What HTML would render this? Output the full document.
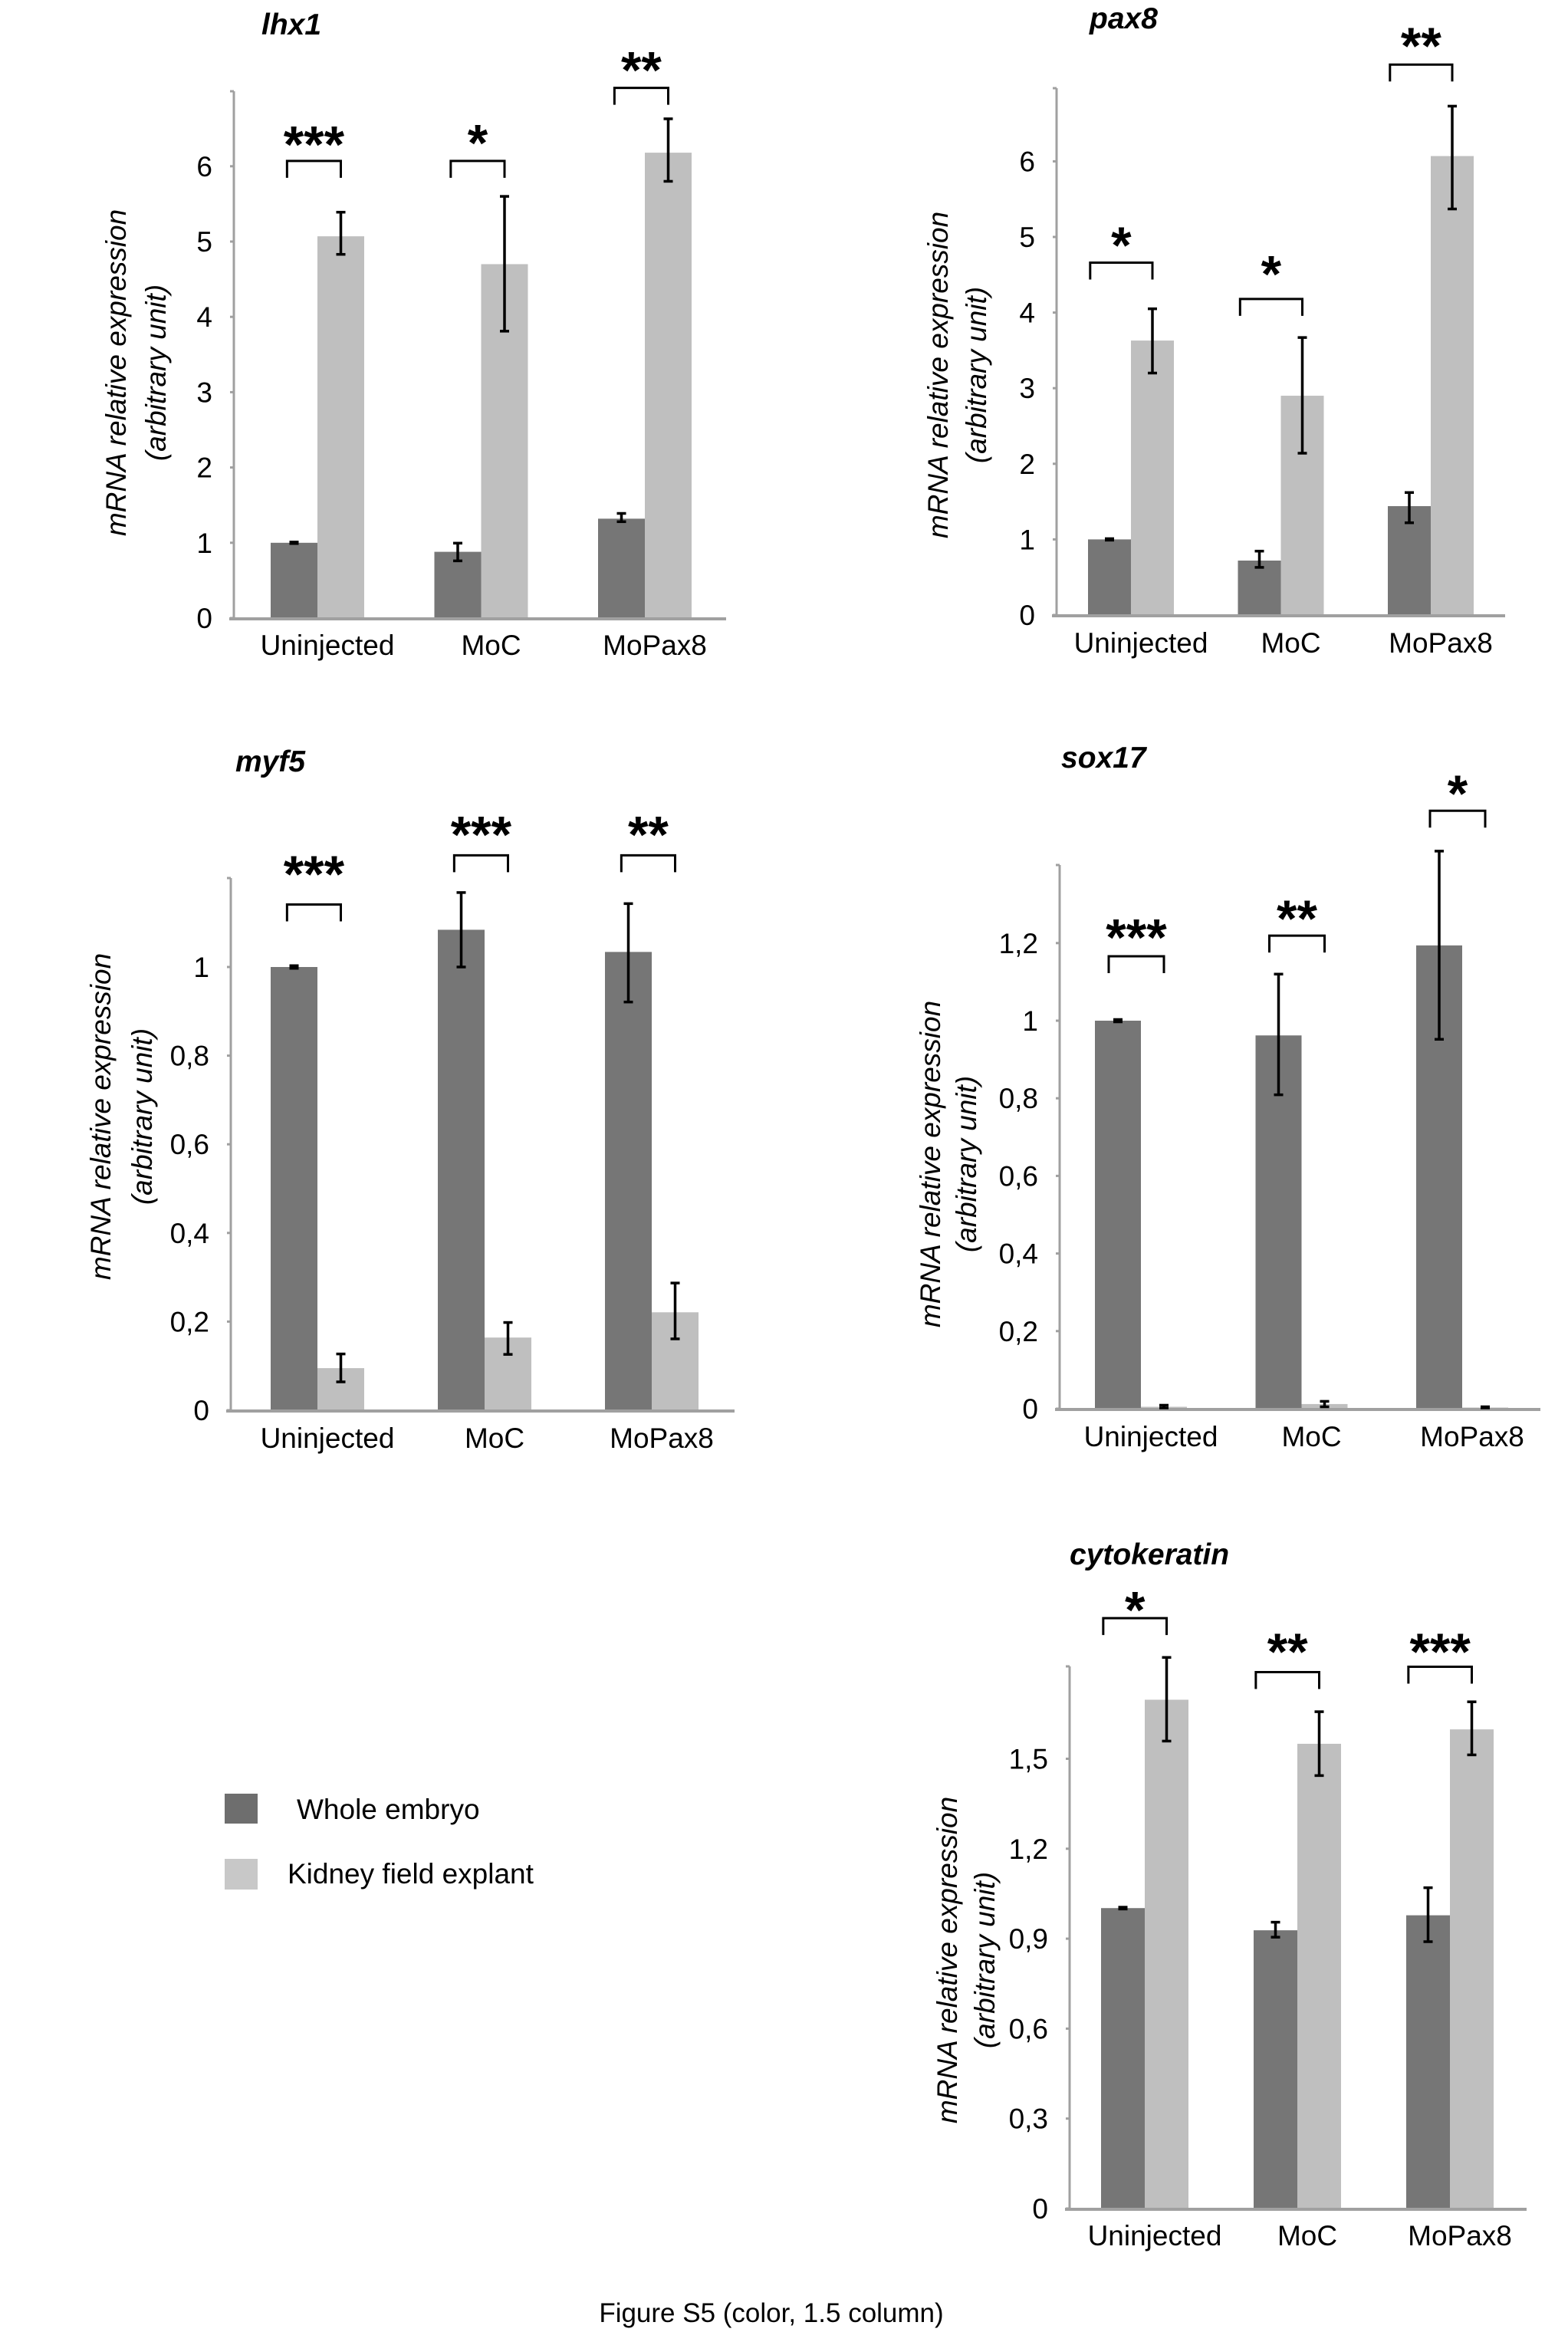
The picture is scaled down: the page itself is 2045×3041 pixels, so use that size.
<!DOCTYPE html>
<html><head><meta charset="utf-8"><title>Figure S5</title>
<style>
html,body{margin:0;padding:0;background:#fff;}
svg{display:block;font-family:"Liberation Sans",Arial,sans-serif;}
</style></head>
<body>
<svg id="fig" width="2045" height="3041" viewBox="0 0 2045 3041" xmlns="http://www.w3.org/2000/svg"></svg>
<script>
// ---- shared data ----
const categories = ["Uninjected", "MoC", "MoPax8"];
const seriesNames = ["Whole embryo", "Kidney field explant"];

// lhx1
const lhx1Whole = [1.0, 0.88, 1.32];
const lhx1WholeLo = [0.99, 0.76, 1.28];
const lhx1WholeHi = [1.01, 0.995, 1.39];
const lhx1Kidney = [5.07, 4.70, 6.18];
const lhx1KidneyLo = [4.83, 3.81, 5.80];
const lhx1KidneyHi = [5.39, 5.60, 6.63];
const lhx1Sig = ["***", "*", "**"];
const lhx1BracketY = [6.07, 6.07, 7.04];
const lhx1StarY = [6.46, 6.48, 7.45];
const lhx1Ticks = [0, 1, 2, 3, 4, 5, 6];
const lhx1TickLabels = ["0", "1", "2", "3", "4", "5", "6"];

// pax8
const pax8Whole = [1.0, 0.72, 1.44];
const pax8WholeLo = [0.99, 0.63, 1.22];
const pax8WholeHi = [1.01, 0.845, 1.62];
const pax8Kidney = [3.63, 2.90, 6.07];
const pax8KidneyLo = [3.20, 2.14, 5.37];
const pax8KidneyHi = [4.05, 3.67, 6.73];
const pax8Sig = ["*", "*", "**"];
const pax8BracketY = [4.66, 4.18, 7.28];
const pax8StarY = [5.06, 4.68, 7.70];
const pax8Ticks = [0, 1, 2, 3, 4, 5, 6];
const pax8TickLabels = ["0", "1", "2", "3", "4", "5", "6"];

// myf5
const myf5Whole = [1.0, 1.084, 1.034];
const myf5WholeLo = [0.997, 1.0, 0.921];
const myf5WholeHi = [1.003, 1.168, 1.143];
const myf5Kidney = [0.095, 0.164, 0.221];
const myf5KidneyLo = [0.064, 0.126, 0.161];
const myf5KidneyHi = [0.127, 0.198, 0.287];
const myf5Sig = ["***", "***", "**"];
const myf5BracketY = [1.141, 1.252, 1.252];
const myf5StarY = [1.239, 1.328, 1.328];
const myf5Ticks = [0, 0.2, 0.4, 0.6, 0.8, 1];
const myf5TickLabels = ["0", "0,2", "0,4", "0,6", "0,8", "1"];

// sox17
const sox17Whole = [1.0, 0.962, 1.194];
const sox17WholeLo = [0.997, 0.809, 0.952];
const sox17WholeHi = [1.003, 1.12, 1.437];
const sox17Kidney = [0.005, 0.012, 0.003];
const sox17KidneyLo = [0.002, 0.005, 0.002];
const sox17KidneyHi = [0.009, 0.019, 0.005];
const sox17Sig = ["***", "**", "*"];
const sox17BracketY = [1.166, 1.219, 1.541];
const sox17StarY = [1.248, 1.296, 1.619];
const sox17Ticks = [0, 0.2, 0.4, 0.6, 0.8, 1, 1.2];
const sox17TickLabels = ["0", "0,2", "0,4", "0,6", "0,8", "1", "1,2"];

// cytokeratin
const cytoWhole = [1.002, 0.928, 0.978];
const cytoWholeLo = [0.999, 0.905, 0.89];
const cytoWholeHi = [1.005, 0.955, 1.07];
const cytoKidney = [1.697, 1.55, 1.598];
const cytoKidneyLo = [1.559, 1.444, 1.513];
const cytoKidneyHi = [1.838, 1.657, 1.69];
const cytoSig = ["*", "**", "***"];
const cytoBracketY = [1.969, 1.789, 1.807];
const cytoStarY = [2.04, 1.90, 1.90];
const cytoTicks = [0, 0.3, 0.6, 0.9, 1.2, 1.5];
const cytoTickLabels = ["0", "0,3", "0,6", "0,9", "1,2", "1,5"];

const NS = "http://www.w3.org/2000/svg";
const svg = document.getElementById("fig");
function mk(tag, attrs, parent) {
  const e = document.createElementNS(NS, tag);
  for (const k in attrs) e.setAttribute(k, attrs[k]);
  (parent || svg).appendChild(e);
  return e;
}

function drawChart(cfg) {
  const g = mk("g", {});
  
  
  const yScale = v => cfg.base - v * cfg.ppu;
  const darkX = i => cfg.firstDark + i * cfg.spacing;
  const w = cfg.barW;

  const t = mk("text", {x: cfg.titleX, y: cfg.titleY, "font-size": 39, "font-weight": "bold", "font-style": "italic", fill: "#000"}, g);
  t.textContent = cfg.title;
  
  

  const yt = mk("g", {transform: "translate(" + cfg.ytX + "," + cfg.ytY + ") rotate(-90)"}, g);
  
  
  const l1 = mk("text", {x: 0, y: 0, "text-anchor": "middle", "font-size": 37, "font-style": "italic", fill: "#000"}, yt);
  l1.textContent = "mRNA relative expression";
  const l2 = mk("text", {x: 0, y: cfg.ytGap, "text-anchor": "middle", "font-size": 37, "font-style": "italic", fill: "#000"}, yt);
  l2.textContent = "(arbitrary unit)";

  for (let i = 0; i < categories.length; i++) {
    const x = darkX(i);
    const b1 = mk("rect", {x: x, y: yScale(cfg.whole[i]), width: w, height: cfg.base - yScale(cfg.whole[i]), fill: "#767676"}, g);
    
    
    const b2 = mk("rect", {x: x + w, y: yScale(cfg.kidney[i]), width: w, height: cfg.base - yScale(cfg.kidney[i]), fill: "#bfbfbf"}, g);
    
    
  }

  const ax = mk("line", {x1: cfg.axisX, y1: cfg.top, x2: cfg.axisX, y2: cfg.base + 2, stroke: "#a0a0a0", "stroke-width": 3}, g);
  
  
  const xa = mk("line", {x1: cfg.axisX - 6, y1: cfg.base + 1, x2: cfg.right, y2: cfg.base + 1, stroke: "#a0a0a0", "stroke-width": 4}, g);
  
  
  mk("line", {x1: cfg.axisX - 5, y1: cfg.top, x2: cfg.axisX, y2: cfg.top, stroke: "#a0a0a0", "stroke-width": 3}, g);

  for (let k = 0; k < cfg.ticks.length; k++) {
    const y = yScale(cfg.ticks[k]);
    mk("line", {x1: cfg.axisX - 5, y1: y, x2: cfg.axisX, y2: y, stroke: "#a0a0a0", "stroke-width": 3}, g);
    const tl = mk("text", {x: cfg.axisX - 28, y: y + 13, "text-anchor": "end", "font-size": 37, fill: "#000"}, g);
    tl.textContent = cfg.tickLabels[k];
    
    
  }

  function errBar(cx, lo, hi, nm) {
    const e = mk("g", {stroke: "#000", "stroke-width": 3.5}, g);
    
    
    mk("line", {x1: cx, y1: yScale(lo), x2: cx, y2: yScale(hi)}, e);
    mk("line", {x1: cx - 6, y1: yScale(lo), x2: cx + 6, y2: yScale(lo)}, e);
    mk("line", {x1: cx - 6, y1: yScale(hi), x2: cx + 6, y2: yScale(hi)}, e);
  }
  for (let i = 0; i < categories.length; i++) {
    const x = darkX(i);
    errBar(x + w / 2, cfg.wholeLo[i], cfg.wholeHi[i], 'error-bar-whole-' + categories[i].toLowerCase());
    errBar(x + 1.5 * w, cfg.kidneyLo[i], cfg.kidneyHi[i], 'error-bar-kidney-' + categories[i].toLowerCase());
  }

  for (let i = 0; i < categories.length; i++) {
    const x1 = darkX(i) + cfg.bInset * w;
    const x2 = darkX(i) + 1.5 * w;
    const yb = yScale(cfg.bracketY[i]);
    const br = mk("path", {d: "M" + x1 + " " + (yb + 22) + " V" + yb + " H" + x2 + " V" + (yb + 22), fill: "none", stroke: "#000", "stroke-width": 3}, g);
    
    
    const st = mk("text", {x: (x1 + x2) / 2, y: yScale(cfg.starY[i]) + 40, "text-anchor": "middle", "font-size": 68, "font-weight": "bold", fill: "#000"}, g);
    st.textContent = cfg.sig[i];
    
    
  }

  for (let i = 0; i < categories.length; i++) {
    const cl = mk("text", {x: darkX(i) + w + 13, y: cfg.catY + 13, "text-anchor": "middle", "font-size": 37, fill: "#000"}, g);
    cl.textContent = categories[i];
    
    
  }
}

drawChart({name: "lhx1", title: "lhx1", titleX: 341, titleY: 45, ytX: 164, ytY: 486, ytGap: 52,
  axisX: 305, base: 806, ppu: 98.2, top: 119, right: 947, firstDark: 353, spacing: 213.5, barW: 61, bInset: 0.35, catY: 841,
  whole: lhx1Whole, wholeLo: lhx1WholeLo, wholeHi: lhx1WholeHi, kidney: lhx1Kidney, kidneyLo: lhx1KidneyLo, kidneyHi: lhx1KidneyHi,
  sig: lhx1Sig, bracketY: lhx1BracketY, starY: lhx1StarY, ticks: lhx1Ticks, tickLabels: lhx1TickLabels});

drawChart({name: "pax8", title: "pax8", titleX: 1421, titleY: 37, ytX: 1236, ytY: 489, ytGap: 50,
  axisX: 1378, base: 802, ppu: 98.6, top: 115, right: 1963, firstDark: 1419, spacing: 195.5, barW: 56, bInset: 0.05, catY: 838,
  whole: pax8Whole, wholeLo: pax8WholeLo, wholeHi: pax8WholeHi, kidney: pax8Kidney, kidneyLo: pax8KidneyLo, kidneyHi: pax8KidneyHi,
  sig: pax8Sig, bracketY: pax8BracketY, starY: pax8StarY, ticks: pax8Ticks, tickLabels: pax8TickLabels});

drawChart({name: "myf5", title: "myf5", titleX: 307, titleY: 1006, ytX: 144, ytY: 1456, ytGap: 54,
  axisX: 301, base: 1839, ppu: 578, top: 1145, right: 958, firstDark: 353, spacing: 218, barW: 61, bInset: 0.35, catY: 1875,
  whole: myf5Whole, wholeLo: myf5WholeLo, wholeHi: myf5WholeHi, kidney: myf5Kidney, kidneyLo: myf5KidneyLo, kidneyHi: myf5KidneyHi,
  sig: myf5Sig, bracketY: myf5BracketY, starY: myf5StarY, ticks: myf5Ticks, tickLabels: myf5TickLabels});

drawChart({name: "sox17", title: "sox17", titleX: 1384, titleY: 1001, ytX: 1226, ytY: 1518, ytGap: 47,
  axisX: 1382, base: 1837, ppu: 506, top: 1128, right: 2009, firstDark: 1428, spacing: 209.5, barW: 60, bInset: 0.3, catY: 1873,
  whole: sox17Whole, wholeLo: sox17WholeLo, wholeHi: sox17WholeHi, kidney: sox17Kidney, kidneyLo: sox17KidneyLo, kidneyHi: sox17KidneyHi,
  sig: sox17Sig, bracketY: sox17BracketY, starY: sox17StarY, ticks: sox17Ticks, tickLabels: sox17TickLabels});

drawChart({name: "cytokeratin", title: "cytokeratin", titleX: 1395, titleY: 2040, ytX: 1248, ytY: 2556, ytGap: 49,
  axisX: 1395, base: 2880, ppu: 391, top: 2173, right: 1991, firstDark: 1436, spacing: 199, barW: 57, bInset: 0.05, catY: 2915,
  whole: cytoWhole, wholeLo: cytoWholeLo, wholeHi: cytoWholeHi, kidney: cytoKidney, kidneyLo: cytoKidneyLo, kidneyHi: cytoKidneyHi,
  sig: cytoSig, bracketY: cytoBracketY, starY: cytoStarY, ticks: cytoTicks, tickLabels: cytoTickLabels});

const lg = mk("g", {});


const sw1 = mk("rect", {x: 293, y: 2339, width: 43, height: 39, fill: "#6e6e6e"}, lg);


const lt1 = mk("text", {x: 387, y: 2372, "font-size": 37, fill: "#000"}, lg);
lt1.textContent = seriesNames[0];


const sw2 = mk("rect", {x: 293, y: 2424, width: 43, height: 40, fill: "#c8c8c8"}, lg);


const lt2 = mk("text", {x: 375, y: 2456, "font-size": 37, fill: "#000"}, lg);
lt2.textContent = seriesNames[1];



const cap = mk("text", {x: 1006, y: 3028, "text-anchor": "middle", "font-size": 35, fill: "#000"});
cap.textContent = "Figure S5 (color, 1.5 column)";


</script>
</body></html>
